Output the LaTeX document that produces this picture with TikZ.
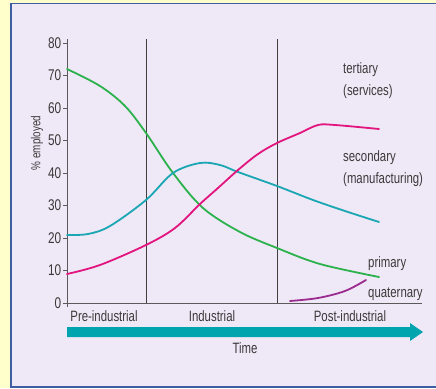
\documentclass[tikz,border=0pt]{standalone}
\usepackage{fontspec}
\setmainfont[FakeStretch=0.76]{Liberation Sans}
\definecolor{bgyellow}{HTML}{FFFFCC}
\definecolor{panel}{HTML}{EFE8F6}
\definecolor{frameblue}{HTML}{3F5FA3}
\definecolor{txtgray}{HTML}{3A3A3A}
\definecolor{axisgray}{HTML}{5A5A5A}
\definecolor{primcol}{HTML}{2BB24C}
\definecolor{seccol}{HTML}{1BA6B3}
\definecolor{tercol}{HTML}{E2147E}
\definecolor{quatcol}{HTML}{9C2B8F}
\definecolor{timecol}{HTML}{00A4AF}
\tikzset{
  curve/.style={line width=1.8pt, line join=round, line cap=round},
  ticklbl/.style={anchor=east, inner sep=0pt, text=txtgray, font=\fontsize{15.5}{17}\selectfont},
  lbl/.style={anchor=base west, inner sep=0pt, align=left, text=txtgray, font=\fontsize{15}{22}\selectfont},
  stagelbl/.style={anchor=base, inner sep=0pt, text=txtgray, font=\fontsize{15}{17}\selectfont}
}

\begin{document}
\begin{tikzpicture}[x=1pt,y=-1pt]
\useasboundingbox (0,0) rectangle (436,388);
\fill[bgyellow] (0,0) rectangle (436,388);
\filldraw[fill=panel, draw=frameblue, line width=1.8pt] (11,3.5) rectangle (440,387);

% axes
\draw[axisgray, line width=1pt] (67,39) -- (67,307);
\draw[axisgray, line width=1pt] (67,303) -- (422,303);
\foreach \v in {0,10,...,80}{
  \draw[axisgray, line width=0.8pt] (63,{303-3.25*\v}) -- (67,{303-3.25*\v});
  \node[ticklbl] (tick\v) at (61.5,{303-3.25*\v}) {\v};
}
\node[rotate=90, inner sep=0pt, text=txtgray, font=\fontsize{13}{15}\selectfont] (ylabel) at (37,143) {\% employed};

% stage boundaries
\draw[black!75, line width=1pt] (146,39) -- (146,303);
\draw[black!75, line width=1pt] (277,39) -- (277,303);

% primary
\draw[curve, primcol] plot[smooth, tension=0.55] coordinates {(67,69) (100,86) (125,106) (146,133) (173,173) (203,208) (240,232) (277,248) (320,264) (379,277)};
% secondary
\draw[curve, seccol] plot[smooth, tension=0.55] coordinates {(67,235) (88,234) (110,226) (146,200) (173,173) (200,163) (220,165) (238,172) (277,186) (313,200) (345,211) (379,222)};
% tertiary
\draw[curve, tercol] plot[smooth, tension=0.55] coordinates {(67,274) (100,265) (146,245) (175,228) (200,204) (218,188) (238,170) (258,154) (277,143) (300,133) (318,125) (335,125) (379,129)};
% quaternary
\draw[curve, quatcol] plot[smooth, tension=0.55] coordinates {(290,301) (318,298) (345,291) (366,280)};

% curve labels
\node[lbl] (tertiary) at (343,95) {tertiary\\(services)};
\node[lbl] (secondary) at (343,183) {secondary\\(manufacturing)};
\node[lbl] (primary) at (368,267) {primary};
\node[lbl] (quaternary) at (368,297) {quaternary};

% stages
\node[stagelbl] (pre) at (104,321) {Pre-industrial};
\node[stagelbl] (ind) at (212,321) {Industrial};
\node[stagelbl] (post) at (350,321) {Post-industrial};

% time arrow
\coordinate (tstart) at (67,332);
\coordinate (tend) at (423,332);
\fill[timecol] (67,327) -- (410,327) -- (410,323) -- (tend) -- (410,341) -- (410,337) -- (67,337) -- cycle;
\node[stagelbl] (time) at (245,353) {Time};
\end{tikzpicture}
\end{document}
